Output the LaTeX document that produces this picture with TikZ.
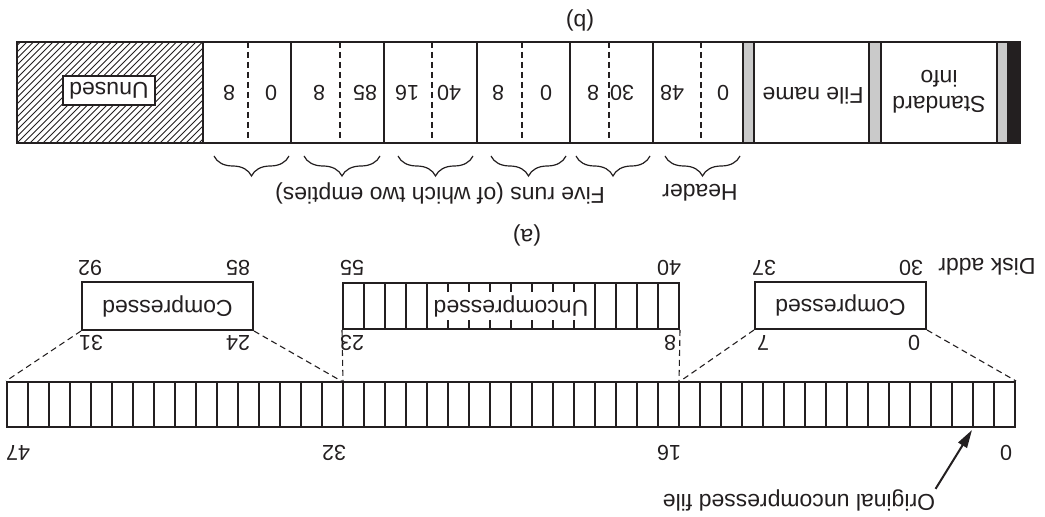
\documentclass[tikz,border=0pt]{standalone}
\usepackage{fontspec}
\setmainfont{Liberation Sans}
\usepackage{graphicx}
\usetikzlibrary{decorations.pathreplacing,arrows.meta,calc}
\definecolor{ink}{HTML}{231F20}
\definecolor{stripe}{HTML}{CACACA}
\begin{document}
\begin{tikzpicture}[x=0.5pt,y=-0.5pt,
  font=\fontsize{11.5}{13}\selectfont, color=ink,
  txt/.style={rotate=180, inner sep=0pt},
  num/.style={rotate=180, inner sep=0pt, font=\fontsize{10.8}{12}\selectfont},
  outline/.style={line width=1pt},
  cellline/.style={line width=0.85pt},
  dashline/.style={line width=0.55pt, dash pattern=on 3pt off 2pt},
  boxnode/.style={draw, outline, inner sep=0pt},
  bracebar/.style={decorate, decoration={brace, amplitude=10pt, aspect=0.5}, line width=0.6pt}]
\useasboundingbox (0,0) rectangle (1045,517);

% ================= (b) =================
\begin{scope}
  \clip (17,42) rectangle (203,143);
  \foreach \k in {0,...,46} \draw[line width=0.5pt] ({-90+6.5*\k},146) -- ++(107,-107);
\end{scope}
\fill[stripe] (743,42) rectangle (754,143);
\fill[stripe] (869,42) rectangle (881,143);
\fill[stripe] (997,42) rectangle (1007,143);
\fill[ink] (1007,42) rectangle (1020,143);
\foreach \x in {203,291,384,477,570,653,743,754,869,881,997}
  \draw[cellline] (\x,42) -- (\x,143);
\foreach \x in {248,340,432,522,609,701}
  \draw[dashline] (\x,42) -- (\x,143);
\node[boxnode, minimum width=501.5pt, minimum height=50.5pt] (rec) at (518.5,92.5) {};
\node[boxnode, fill=white, minimum width=46pt, minimum height=14.5pt] (unused) at (109,90.5) {\rotatebox{180}{Unused}};

\node[num] (r1a) at (229,93) {8};
\node[num] (r1b) at (271,93) {0};
\node[num] (r2a) at (319,93) {8};
\node[num] (r2b) at (365,93) {85};
\node[num] (r3a) at (407,93) {16};
\node[num] (r3b) at (449,93) {40};
\node[num] (r4a) at (498,93) {8};
\node[num] (r4b) at (546,93) {0};
\node[num] (r5a) at (593,93) {8};
\node[num] (r5b) at (622,93) {30};
\node[num] (h1) at (672,93) {48};
\node[num] (h2) at (723,93) {0};
\node[txt] (fname) at (813,96) {File name};
\node[txt, align=center] (sinfo) at (939,92) {Standard\\info};

\draw[bracebar] (289,156) -- (214,156);
\draw[bracebar] (380,156) -- (304,156);
\draw[bracebar] (473,156) -- (398,156);
\draw[bracebar] (566,156) -- (491,156);
\draw[bracebar] (650,156) -- (576,156);
\draw[bracebar] (740,156) -- (665,156);
\node[txt] (runs) at (440,193) {Five runs (of which two empties)};
\node[txt] (header) at (700,193) {Header};
\node[txt] (lb) at (580,20) {(b)};

% ================= (a) =================
\node[txt] (la) at (527,235) {(a)};
\node[txt] (disk) at (987,267) {Disk addr};

\node[boxnode, minimum width=504pt, minimum height=22.5pt] (bar) at (511,404.5) {};
\foreach \i in {1,...,47} \draw[cellline] ({7+21*\i},382) -- ({7+21*\i},427);
\coordinate (b16) at (679,382);
\coordinate (b32) at (343,382);
\coordinate (b2) at (972,430);

\node[num] (n0) at (1006,453) {0};
\node[num] (n16) at (669,453) {16};
\node[num] (n32) at (334,453) {32};
\node[num] (n47) at (18,453) {47};

% right compressed
\node[boxnode, minimum width=85.5pt, minimum height=23.5pt] (c1) at (840.5,305.5) {\rotatebox{180}{Compressed}};
\node[num] at (911,268) {30};
\node[num] at (764,268) {37};
\node[num] at (914,343) {0};
\node[num] at (763,343) {7};

% uncompressed
\node[boxnode, minimum width=168pt, minimum height=23pt] (u) at (511,306) {};
\foreach \i in {1,...,15} \draw[cellline] ({343+21*\i},283) -- ({343+21*\i},329);
\node[fill=white, inner xsep=0pt, inner ysep=1.5pt, minimum width=81.5pt] (utext) at (511,306) {\rotatebox{180}{Uncompressed}};
\node[num] at (669,268) {40};
\node[num] at (352,268) {55};
\node[num] at (670,343) {8};
\node[num] at (352,343) {23};

% left compressed
\node[boxnode, minimum width=85.5pt, minimum height=24pt] (c2) at (167.5,306) {\rotatebox{180}{Compressed}};
\node[num] at (90,268) {92};
\node[num] at (238,268) {85};
\node[num] at (91,343) {31};
\node[num] at (238,343) {24};

\draw[dashline] (c1.south east) -- (bar.north east);
\draw[dashline] (c1.south west) -- (b16);
\draw[dashline] (u.south east) -- (b16);
\draw[dashline] (u.south west) -- (b32);
\draw[dashline] (c2.south east) -- (b32);
\draw[dashline] (c2.south west) -- (bar.north west);

\node[txt] (orig) at (799,500) {Original uncompressed file};
\draw[line width=1pt, -{Triangle[length=9pt,width=5pt]}] (orig.south west) -- (b2);
\end{tikzpicture}
\end{document}
